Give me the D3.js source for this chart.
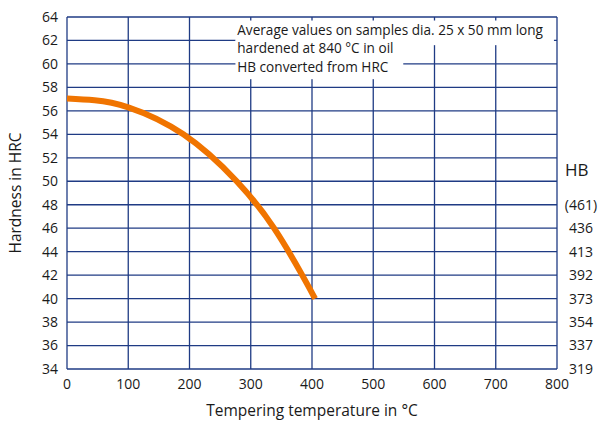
<!DOCTYPE html>
<html>
<head>
<meta charset="utf-8">
<script src="https://cdn.jsdelivr.net/npm/d3@7"></script>
<style>
  body { margin: 0; background: #fff; }
  svg text { font-family: "Open Sans", "Noto Sans", sans-serif; fill: #1a1a1a; }
</style>
</head>
<body>
<div id="chart"></div>
<script>
// Tempering curve
var temps    = [0, 45, 100, 190, 277, 338, 384, 405];
var hardness = [57.05, 56.9, 56.3, 54, 50, 46, 42, 40];

var xTicks = [0, 100, 200, 300, 400, 500, 600, 700, 800];
var yTicks = [34, 36, 38, 40, 42, 44, 46, 48, 50, 52, 54, 56, 58, 60, 62, 64];
// HB conversion shown on the right side
var hbLevels = [48, 46, 44, 42, 40, 38, 36, 34];
var hbLabels = ["(461)", "436", "413", "392", "373", "354", "337", "319"];

var noteLines = [
    "Average values on samples dia. 25 x 50 mm long",
    "hardened at 840 \u00b0C in oil",
    "HB converted from HRC"
];

var W = 599, H = 424;
var margin = { top: 17, right: 42, bottom: 55, left: 67 };
var gridColor = "#1f3b84";

var svg = d3.select("#chart").append("svg")
    .attr("width", W)
    .attr("height", H);

var x = d3.scaleLinear().domain([0, 800]).range([margin.left, W - margin.right]);
var y = d3.scaleLinear().domain([34, 64]).range([H - margin.bottom, margin.top]);

// grid
var grid = svg.append("g");
grid.selectAll("line.v").data(xTicks).enter().append("line")
    .attr("x1", function (d) { return x(d); })
    .attr("x2", function (d) { return x(d); })
    .attr("y1", y(64)).attr("y2", y(34))
    .style("stroke", gridColor).style("stroke-width", 1.3);
grid.selectAll("line.h").data(yTicks).enter().append("line")
    .attr("x1", x(0)).attr("x2", x(800))
    .attr("y1", function (d) { return y(d); })
    .attr("y2", function (d) { return y(d); })
    .style("stroke", gridColor).style("stroke-width", 1.3);

// note box, covers the grid behind the text
var note = svg.append("g");
note.append("rect")
    .attr("x", x(275)).attr("y", y(63.7))
    .attr("width", x(795) - x(275)).attr("height", y(61.6) - y(63.7))
    .style("fill", "#fff");
note.append("rect")
    .attr("x", x(275)).attr("y", y(62))
    .attr("width", x(549) - x(275)).attr("height", y(58.7) - y(62))
    .style("fill", "#fff");
note.selectAll("text").data(noteLines).enter().append("text")
    .attr("x", x(278))
    .attr("y", function (d, i) { return y(62.5) + i * 18.5; })
    .attr("font-size", 13.6)
    .text(function (d) { return d; });

// left axis labels
svg.selectAll("text.yt").data(yTicks).enter().append("text")
    .attr("x", margin.left - 9)
    .attr("y", function (d) { return y(d); })
    .attr("dy", "0.35em")
    .attr("text-anchor", "end")
    .attr("font-size", 14)
    .text(function (d) { return d; });

// bottom axis labels
svg.selectAll("text.xt").data(xTicks).enter().append("text")
    .attr("x", function (d) { return x(d); })
    .attr("y", y(34) + 20)
    .attr("text-anchor", "middle")
    .attr("font-size", 14)
    .text(function (d) { return d; });

// HB labels
svg.append("text")
    .attr("x", x(800) + 8)
    .attr("y", y(50) - 5)
    .attr("font-size", 17)
    .text("HB");
svg.selectAll("text.hb").data(hbLevels).enter().append("text")
    .attr("x", x(800) + 24)
    .attr("y", function (d) { return y(d); })
    .attr("dy", "0.35em")
    .attr("text-anchor", "middle")
    .attr("font-size", 14)
    .text(function (d, i) { return hbLabels[i]; });

// axis titles
svg.append("text")
    .attr("x", x(400))
    .attr("y", H - 8)
    .attr("text-anchor", "middle")
    .attr("font-size", 15.5)
    .text("Tempering temperature in \u00b0C");
svg.append("text")
    .attr("transform", "translate(21," + y(49) + ") rotate(-90)")
    .attr("text-anchor", "middle")
    .attr("font-size", 15.5)
    .text("Hardness in HRC");

// curve
var pts = temps.map(function (t, i) { return [t, hardness[i]]; });
var line = d3.line()
    .x(function (d) { return x(d[0]); })
    .y(function (d) { return y(d[1]); })
    .curve(d3.curveNatural);
svg.append("path")
    .datum(pts)
    .attr("d", line)
    .style("fill", "none")
    .style("stroke", "#f07400")
    .style("stroke-width", 6);
</script>
</body>
</html>
